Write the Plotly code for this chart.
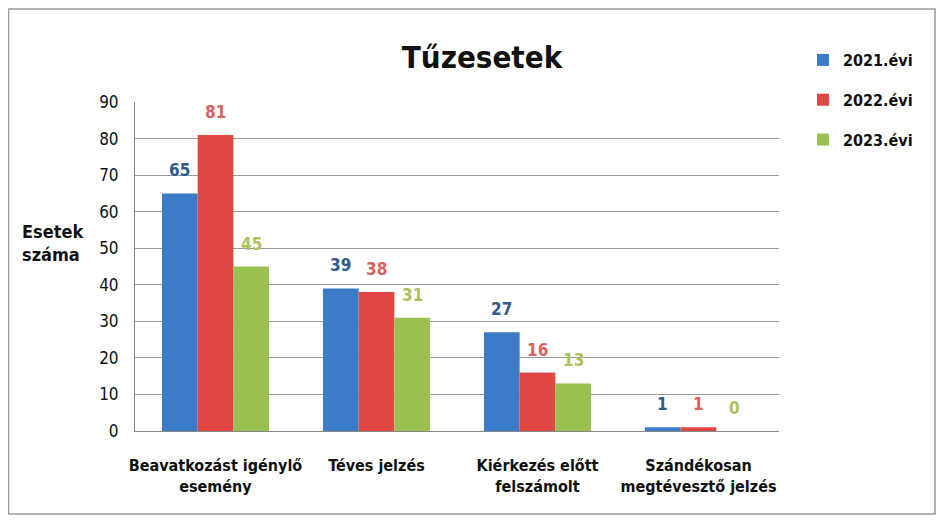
import plotly.graph_objects as go

categories = ["Beavatkozást igénylő<br>esemény", "Téves jelzés",
              "Kiérkezés előtt<br>felszámolt", "Szándékosan<br>megtévesztő jelzés"]
years = ["2021.évi", "2022.évi", "2023.évi"]
values_2021 = [65, 39, 27, 1]
values_2022 = [81, 38, 16, 1]
values_2023 = [45, 31, 13, 0]
y_ticks = [0, 10, 20, 30, 40, 50, 60, 70, 80, 90]

bar_colors = ["#3C7BC7", "#DF4843", "#9BC052"]
label_colors = ["#2E5A8C", "#D9625E", "#A8C25C"]
FONT = "DejaVu Sans Condensed, Roboto Condensed, Roboto, sans-serif"

# page has an 8px body margin, so the figure is drawn 8px in from the corner
W, H = 928, 508
L, T = 127, 94
R, B = W - 771, H - 423
pw, ph = W - L - R, H - T - B

bargap = 0.335
bar_px = pw / len(categories) * (1 - bargap) / len(years)

fig = go.Figure()
annotations = []
for i, (name, vals) in enumerate(zip(years, [values_2021, values_2022, values_2023])):
    fig.add_trace(go.Bar(
        x=categories, y=vals, name=f"<b>{name}</b>",
        marker=dict(color=bar_colors[i], line=dict(width=0)),
        legendgroup=name,
    ))
    for cat, v in zip(categories, vals):
        annotations.append(dict(
            x=cat, y=v, text=f"<b>{v}</b>", showarrow=False,
            xshift=(i - 1) * bar_px, yshift=23, yanchor="middle",
            font=dict(size=17, family=FONT, color=label_colors[i]),
        ))

annotations.append(dict(text="<b>Esetek<br>száma</b>", xref="paper", yref="paper",
                        x=(12 - L) / pw, y=(423 - 235) / ph, xanchor="left",
                        yanchor="middle", showarrow=False, align="left",
                        font=dict(size=18, family=FONT, color="#111")))

fig.update_layout(
    width=W, height=H,
    margin=dict(l=L, r=R, t=T, b=B),
    paper_bgcolor="white", plot_bgcolor="white",
    barmode="group", bargap=bargap, bargroupgap=0,
    font=dict(family=FONT, color="#1a1a1a"),
    title=dict(text="<b>Tűzesetek</b>", x=(474 - L) / pw, xref="paper",
               xanchor="center", y=1 - 49 / H, yanchor="middle",
               font=dict(size=31, family=FONT, color="#111")),
    legend=dict(x=(795 - L) / pw, y=(423 - 35) / ph, xanchor="left", yanchor="top",
                font=dict(size=16, family=FONT, color="#111"),
                traceorder="grouped", tracegroupgap=16, itemwidth=30,
                bgcolor="rgba(0,0,0,0)"),
    xaxis=dict(showline=True, linecolor="#888", linewidth=1, ticks="",
               tickfont=dict(size=16, family=FONT, color="#111"),
               showgrid=False, ticklabelstandoff=20,
               tickprefix="<b>", ticksuffix="</b>"),
    yaxis=dict(range=[0, 90], tickvals=y_ticks, showgrid=True, gridcolor="#9a9a9a",
               gridwidth=1, showline=True, linecolor="#888", linewidth=1,
               ticks="", tickfont=dict(size=17, family=FONT, color="#111"),
               zeroline=False, ticklabelstandoff=12,
               tickprefix="<b>", ticksuffix="</b>"),
    annotations=annotations,
    shapes=[dict(type="rect", xref="paper", yref="paper",
                 x0=(0.5 - L) / pw, x1=(927 - L) / pw,
                 y0=(423 - 506) / ph, y1=(423 - 1) / ph,
                 line=dict(color="#999", width=1.5))],
)
fig.write_html("out.html")
